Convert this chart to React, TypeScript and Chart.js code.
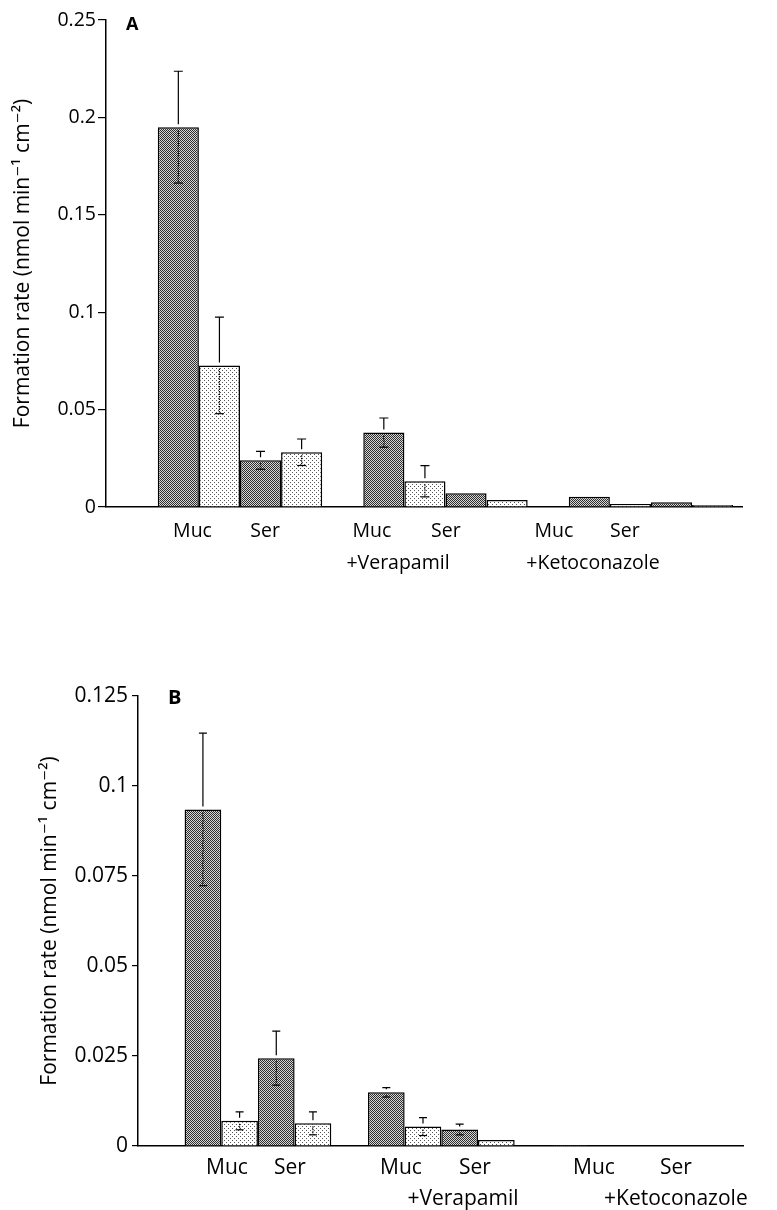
import React, { useEffect, useRef } from "react";
import { Chart, registerables } from "chart.js";
Chart.register(...registerables);

const FONT = "'Open Sans', 'DejaVu Sans', sans-serif";
const Y_TITLE = "Formation rate (nmol min\u207B\u00B9 cm\u207B\u00B2)";

// group positions on the x axis: 0 = control, 1 = +Verapamil, 2 = +Ketoconazole
const groupPositions = [0, 1, 2];

// ---------- Panel A ----------
const aMucDark = [0.195, 0.0382, 0.0053];
const aMucDarkErr = [0.0287, 0.0075, 0];
const aMucDotted = [0.0727, 0.0132, 0.0015];
const aMucDottedErr = [0.0248, 0.008, 0];
const aSerDark = [0.024, 0.007, 0.0024];
const aSerDarkErr = [0.0046, 0, 0];
const aSerDotted = [0.0281, 0.0036, 0.001];
const aSerDottedErr = [0.0068, 0, 0];
const aYTicks = [0, 0.05, 0.1, 0.15, 0.2, 0.25];
const aXRange = [-0.652, 2.443];
const aXLabelPos = [-0.231, 0.122, 0.642, 1.002, 1.528, 1.873, 0.769, 1.718];
const aXLabels: (string | string[])[] = ["Muc", "Ser", "Muc", "Ser", "Muc", "Ser", ["", "+Verapamil"], ["", "+Ketoconazole"]];

// ---------- Panel B ----------
const bMucDark = [0.0935, 0.0149, 0.0003];
const bMucDarkErr = [0.0212, 0.0013, 0];
const bMucDotted = [0.007, 0.0054, 0];
const bMucDottedErr = [0.0025, 0.0025, 0];
const bSerDark = [0.0244, 0.0046, 0];
const bSerDarkErr = [0.0075, 0.0015, 0];
const bSerDotted = [0.0063, 0.0017, 0];
const bSerDottedErr = [0.0032, 0, 0];
const bYTicks = [0, 0.025, 0.05, 0.075, 0.1, 0.125];
const bXRange = [-0.654, 2.645];
const bXLabelPos = [-0.169, 0.174, 0.78, 1.183, 1.832, 2.279, 1.118, 2.279];
const bXLabels: (string | string[])[] = ["Muc", "Ser", "Muc", "Ser", "Muc", "Ser", ["", "+Verapamil"], ["", "+Ketoconazole"]];

function makePattern(kind: "dark" | "light") {
  const c = document.createElement("canvas");
  const g = c.getContext("2d")!;
  if (kind === "dark") {
    c.width = 2; c.height = 2;
    g.fillStyle = "#d6d6d6"; g.fillRect(0, 0, 2, 2);
    g.fillStyle = "#2e2e2e"; g.fillRect(0, 0, 1, 1); g.fillRect(1, 1, 1, 1);
  } else {
    c.width = 4; c.height = 4;
    g.fillStyle = "#ffffff"; g.fillRect(0, 0, 4, 4);
    g.fillStyle = "#555555"; g.fillRect(0, 0, 1, 1); g.fillRect(2, 2, 1, 1);
  }
  return g.createPattern(c, "repeat")!;
}

const errorBarPlugin = {
  id: "errorBars",
  afterDatasetsDraw(chart: any, _args: any, opts: any) {
    const ctx = chart.ctx;
    const y = chart.scales.y;
    chart.data.datasets.forEach((ds: any, di: number) => {
      const errs: number[] = ds.errors;
      if (!errs) return;
      const meta = chart.getDatasetMeta(di);
      meta.data.forEach((bar: any, i: number) => {
        const e = errs[i];
        if (!e) return;
        const v = ds.data[i].y;
        const x = bar.x;
        const pTop = y.getPixelForValue(v + e);
        const pLow = y.getPixelForValue(v - e);
        const barTop = bar.y;
        const cap = opts.cap / 2;
        const gap = 3;
        ctx.save();
        ctx.strokeStyle = "#000";
        ctx.lineWidth = 1.2;
        ctx.beginPath();
        ctx.moveTo(x, barTop - gap);
        ctx.lineTo(x, pTop);
        ctx.moveTo(x - cap, pTop);
        ctx.lineTo(x + cap, pTop);
        ctx.stroke();
        ctx.setLineDash([1.5, 1]);
        ctx.beginPath();
        ctx.moveTo(x, barTop + gap);
        ctx.lineTo(x, pLow);
        ctx.stroke();
        ctx.setLineDash([]);
        ctx.beginPath();
        ctx.moveTo(x - cap, pLow);
        ctx.lineTo(x + cap, pLow);
        ctx.stroke();
        ctx.restore();
      });
    });
  },
};

const panelLabelPlugin = {
  id: "panelLabel",
  afterDraw(chart: any, _args: any, opts: any) {
    const ctx = chart.ctx;
    ctx.save();
    ctx.font = opts.font;
    ctx.fillStyle = "#000";
    ctx.textBaseline = "alphabetic";
    ctx.textAlign = "left";
    ctx.fillText(opts.text, chart.chartArea.left + opts.dx, chart.chartArea.top + opts.dy);
    ctx.restore();
  },
};

type Spec = {
  letter: string;
  letterFont: string;
  letterDx: number;
  letterDy: number;
  series: { values: number[]; errors: number[]; kind: "dark" | "light"; name: string }[];
  yTicks: number[];
  xRange: number[];
  xLabelPos: number[];
  xLabels: (string | string[])[];
  height: number;
  padTop: number;
  padRight: number;
  yWidth: number;
  xLabelHeight: number;
  tickFontSize: number;
  xLineHeight: number;
  xPadding: number;
  yTickLength: number;
  yTickPadding: number;
  titleFontSize: number;
  titlePad: number;
  cap: number;
};

function fmt(v: number) {
  return String(+v.toFixed(4));
}

function Panel({ spec, top }: { spec: Spec; top: number }) {
  const ref = useRef<HTMLCanvasElement>(null);
  useEffect(() => {
    const canvas = ref.current!;
    const dark = makePattern("dark");
    const light = makePattern("light");
    const chart = new Chart(canvas, {
      type: "bar",
      data: {
        datasets: spec.series.map((s) => ({
          label: s.name,
          data: groupPositions.map((g, i) => ({ x: g, y: s.values[i] })),
          errors: s.errors,
          backgroundColor: s.kind === "dark" ? dark : light,
          borderColor: "#000",
          borderWidth: 1.5,
          categoryPercentage: 0.8,
          barPercentage: 1.0,
          xAxisID: "x",
          yAxisID: "y",
        })) as any,
      },
      options: {
        responsive: false,
        animation: false,
        events: [],
        layout: { padding: { top: spec.padTop, right: spec.padRight, bottom: 0, left: 0 } },
        plugins: {
          legend: { display: false },
          tooltip: { enabled: false },
          errorBars: { cap: spec.cap },
          panelLabel: { text: spec.letter, font: spec.letterFont, dx: spec.letterDx, dy: spec.letterDy },
        } as any,
        scales: {
          x: {
            type: "linear",
            position: "bottom",
            offset: false,
            bounds: "data",
            min: spec.xRange[0],
            max: spec.xRange[1],
            grid: { display: false, drawTicks: false, offset: false },
            ticks: { display: false },
            border: { display: true, color: "#000", width: 1.5 },
            afterBuildTicks: (s: any) => {
              s.ticks = groupPositions.map((v) => ({ value: v }));
            },
            afterFit: (s: any) => {
              s.height = 0;
            },
          },
          xl: {
            type: "linear",
            position: "bottom",
            offset: false,
            bounds: "data",
            min: spec.xRange[0],
            max: spec.xRange[1],
            grid: { display: false, drawTicks: false, offset: false },
            border: { display: false },
            ticks: {
              autoSkip: false,
              maxRotation: 0,
              minRotation: 0,
              padding: spec.xPadding,
              color: "#000",
              font: { family: FONT, size: spec.tickFontSize, lineHeight: spec.xLineHeight },
              callback: (_v: any, i: number) => spec.xLabels[i],
            },
            afterBuildTicks: (s: any) => {
              s.ticks = spec.xLabelPos.map((v) => ({ value: v }));
            },
            afterFit: (s: any) => {
              s.height = spec.xLabelHeight;
            },
          },
          y: {
            type: "linear",
            min: spec.yTicks[0],
            max: spec.yTicks[spec.yTicks.length - 1],
            grid: {
              drawOnChartArea: false,
              drawTicks: true,
              tickLength: spec.yTickLength,
              color: "#000",
              lineWidth: 1.2,
            },
            border: { display: true, color: "#000", width: 1.5 },
            ticks: {
              padding: spec.yTickPadding,
              color: "#000",
              font: { family: FONT, size: spec.tickFontSize },
              callback: (v: any) => fmt(Number(v)),
            },
            afterBuildTicks: (s: any) => {
              s.ticks = spec.yTicks.map((v) => ({ value: v }));
            },
            title: {
              display: true,
              text: Y_TITLE,
              color: "#000",
              font: { family: FONT, size: spec.titleFontSize, lineHeight: 1.2 },
              padding: { top: spec.titlePad, bottom: 0 },
            },
            afterFit: (s: any) => {
              s.width = spec.yWidth;
            },
          },
        } as any,
      },
      plugins: [errorBarPlugin, panelLabelPlugin],
    });
    return () => chart.destroy();
  }, [spec]);
  return (
    <canvas
      ref={ref}
      width={777}
      height={spec.height}
      style={{ position: "absolute", left: 0, top, width: 777, height: spec.height, display: "block" }}
    />
  );
}

const specA: Spec = {
  letter: "A",
  letterFont: `bold 18px ${FONT}`,
  letterDx: 20,
  letterDy: 9.5,
  series: [
    { name: "Muc dark", values: aMucDark, errors: aMucDarkErr, kind: "dark" },
    { name: "Muc dotted", values: aMucDotted, errors: aMucDottedErr, kind: "light" },
    { name: "Ser dark", values: aSerDark, errors: aSerDarkErr, kind: "dark" },
    { name: "Ser dotted", values: aSerDotted, errors: aSerDottedErr, kind: "light" },
  ],
  yTicks: aYTicks,
  xRange: aXRange,
  xLabelPos: aXLabelPos,
  xLabels: aXLabels,
  height: 600,
  padTop: 20,
  padRight: 35,
  yWidth: 106,
  xLabelHeight: 93,
  tickFontSize: 19.5,
  xLineHeight: 1.65,
  xPadding: 8,
  yTickLength: 8,
  yTickPadding: 2,
  titleFontSize: 21,
  titlePad: 10,
  cap: 9,
};

const specB: Spec = {
  letter: "B",
  letterFont: `bold 20px ${FONT}`,
  letterDx: 30,
  letterDy: 7.5,
  series: [
    { name: "Muc dark", values: bMucDark, errors: bMucDarkErr, kind: "dark" },
    { name: "Muc dotted", values: bMucDotted, errors: bMucDottedErr, kind: "light" },
    { name: "Ser dark", values: bSerDark, errors: bSerDarkErr, kind: "dark" },
    { name: "Ser dotted", values: bSerDotted, errors: bSerDottedErr, kind: "light" },
  ],
  yTicks: bYTicks,
  xRange: bXRange,
  xLabelPos: bXLabelPos,
  xLabels: bXLabels,
  height: 610,
  padTop: 96,
  padRight: 34,
  yWidth: 138,
  xLabelHeight: 64,
  tickFontSize: 21,
  xLineHeight: 1.48,
  xPadding: 6,
  yTickLength: 6,
  yTickPadding: 4,
  titleFontSize: 21,
  titlePad: 37,
  cap: 8,
};

export default function App() {
  return (
    <div style={{ position: "absolute", left: 0, top: 0, width: 777, height: 1210, background: "#fff" }}>
      <Panel spec={specA} top={0} />
      <Panel spec={specB} top={600} />
    </div>
  );
}
